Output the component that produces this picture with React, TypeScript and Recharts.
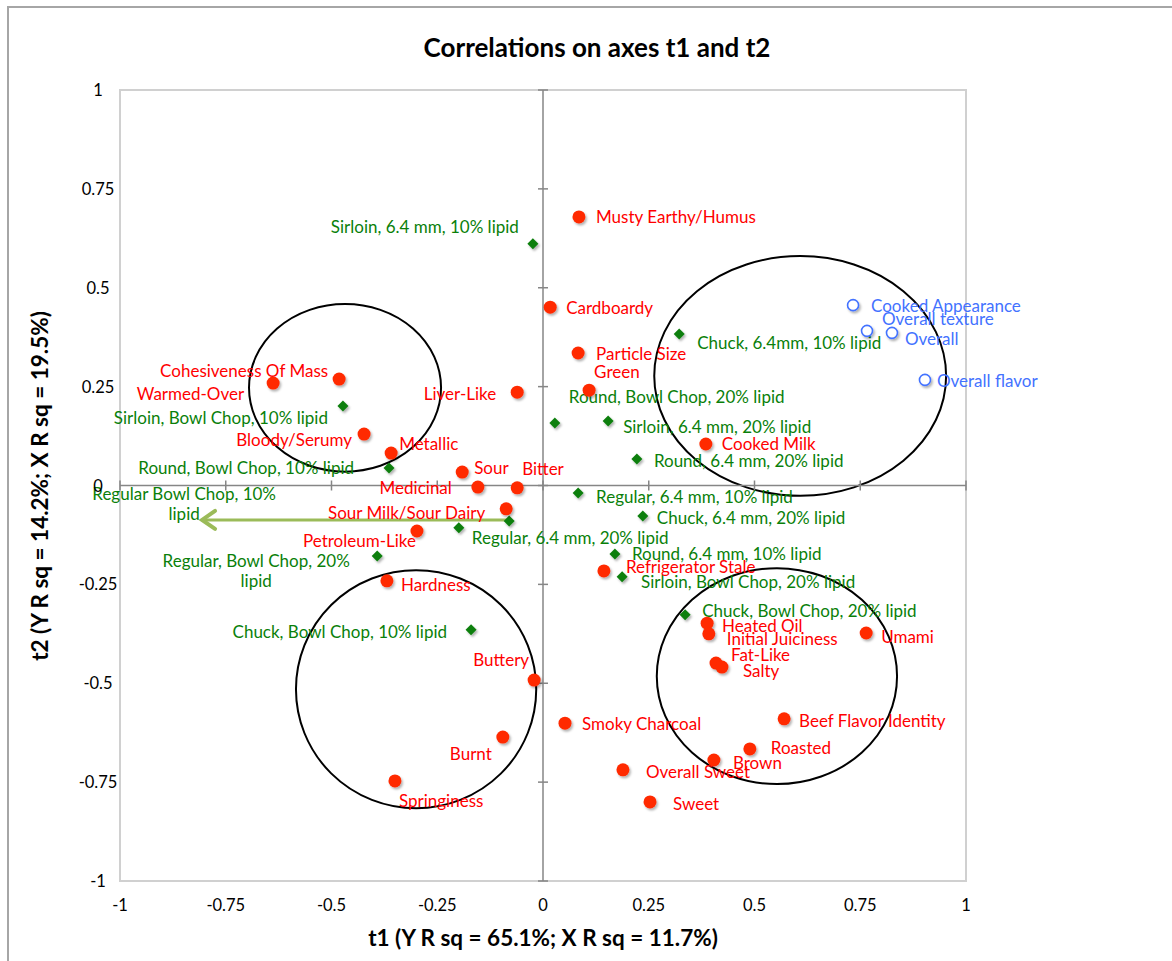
import {
  ReferenceArea,
  ReferenceDot,
  ReferenceLine,
  Scatter,
  ScatterChart,
  XAxis,
  YAxis,
} from 'recharts';

// sensory attributes (red dots)
const attrNames = [
  'Musty Earthy/Humus', 'Cardboardy', 'Particle Size', 'Green', 'Liver-Like',
  'Cohesiveness Of Mass', 'Warmed-Over', 'Bloody/Serumy', 'Metallic', 'Sour',
  'Medicinal', 'Bitter', 'Sour Milk/Sour Dairy', 'Petroleum-Like', 'Hardness',
  'Buttery', 'Burnt', 'Springiness', 'Smoky Charcoal', 'Overall Sweet',
  'Sweet', 'Refrigerator Stale', 'Cooked Milk', 'Heated Oil', 'Initial Juiciness',
  'Fat-Like', 'Salty', 'Umami', 'Beef Flavor Identity', 'Roasted', 'Brown',
];
const attrT1 = [
  0.085, 0.017, 0.083, 0.109, -0.061,
  -0.482, -0.638, -0.423, -0.359, -0.191,
  -0.154, -0.061, -0.087, -0.298, -0.369,
  -0.021, -0.095, -0.35, 0.052, 0.189,
  0.253, 0.144, 0.385, 0.388, 0.392,
  0.409, 0.423, 0.764, 0.57, 0.489, 0.404,
];
const attrT2 = [
  0.679, 0.451, 0.335, 0.241, 0.236,
  0.269, 0.259, 0.13, 0.082, 0.034,
  -0.004, -0.006, -0.059, -0.115, -0.241,
  -0.492, -0.636, -0.747, -0.601, -0.719,
  -0.8, -0.216, 0.105, -0.348, -0.375,
  -0.449, -0.459, -0.373, -0.59, -0.666, -0.694,
];

// ground beef samples (green diamonds)
const sampleNames = [
  'Sirloin, 6.4 mm, 10% lipid', 'Chuck, 6.4mm, 10% lipid', 'Sirloin, Bowl Chop, 10% lipid',
  'Round, Bowl Chop, 20% lipid', 'Sirloin, 6.4 mm, 20% lipid', 'Round, 6.4 mm, 20% lipid',
  'Round, Bowl Chop, 10% lipid', 'Regular, 6.4 mm, 10% lipid', 'Chuck, 6.4 mm, 20% lipid',
  'Regular, 6.4 mm, 20% lipid', 'Regular Bowl Chop, 10% lipid', 'Regular, Bowl Chop, 20% lipid',
  'Round, 6.4 mm, 10% lipid', 'Sirloin, Bowl Chop, 20% lipid', 'Chuck, Bowl Chop, 20% lipid',
  'Chuck, Bowl Chop, 10% lipid',
];
const sampleT1 = [
  -0.024, 0.322, -0.473, 0.028, 0.154, 0.222, -0.364, 0.083,
  0.236, -0.199, -0.08, -0.392, 0.17, 0.187, 0.336, -0.17,
];
const sampleT2 = [
  0.611, 0.383, 0.201, 0.158, 0.163, 0.067, 0.044, -0.019,
  -0.077, -0.107, -0.09, -0.178, -0.173, -0.231, -0.327, -0.365,
];

// overall liking (blue rings)
const likingNames = ['Cooked Appearance', 'Overall texture', 'Overall', 'Overall flavor'];
const likingT1 = [0.733, 0.766, 0.825, 0.903];
const likingT2 = [0.456, 0.391, 0.386, 0.267];

const axisTicks = [-1, -0.75, -0.5, -0.25, 0, 0.25, 0.5, 0.75, 1];

// hand-drawn grouping ellipses, bounding boxes in t1/t2 units
const groupX1 = [-0.695, 0.263, -0.584, 0.269];
const groupX2 = [-0.241, 0.953, -0.016, 0.837];
const groupY1 = [0.035, -0.026, -0.816, -0.755];
const groupY2 = [0.459, 0.58, -0.214, -0.209];

// arrow from Regular Bowl Chop point to its label
const arrowFrom = { x: -0.08, y: -0.087 };
const arrowTo = { x: -0.806, y: -0.087 };

const build = (names: string[], t1: number[], t2: number[]) =>
  names.map((name, i) => ({ name, t1: t1[i], t2: t2[i] }));

const attrData = build(attrNames, attrT1, attrT2);
const sampleData = build(sampleNames, sampleT1, sampleT2);
const likingData = build(likingNames, likingT1, likingT2);

// label placement: dx, dy (px from marker), anchor, wrap onto two lines
type Pos = [number, number, 'start' | 'end' | 'middle', boolean?];
const labelPos: Record<string, Pos> = {
  'Musty Earthy/Humus': [17, 0, 'start'],
  Cardboardy: [16, 0, 'start'],
  'Particle Size': [18, 0, 'start'],
  Green: [5, -19, 'start'],
  'Liver-Like': [-21, 1, 'end'],
  'Cohesiveness Of Mass': [-11, -9, 'end'],
  'Warmed-Over': [-29, 10, 'end'],
  'Bloody/Serumy': [-12, 5, 'end'],
  Metallic: [8, -10, 'start'],
  Sour: [12, -5, 'start'],
  Medicinal: [-26, 0, 'end'],
  Bitter: [5, -19, 'start'],
  'Sour Milk/Sour Dairy': [-21, 4, 'end'],
  'Petroleum-Like': [-1, 10, 'end'],
  Hardness: [14, 4, 'start'],
  Buttery: [-5, -21, 'end'],
  Burnt: [-11, 16, 'end'],
  Springiness: [4, 20, 'start'],
  'Smoky Charcoal': [17, 0, 'start'],
  'Overall Sweet': [23, 2, 'start'],
  Sweet: [23, 2, 'start'],
  'Refrigerator Stale': [22, -4, 'start'],
  'Cooked Milk': [16, 0, 'start'],
  'Heated Oil': [15, 2, 'start'],
  'Initial Juiciness': [18, 5, 'start'],
  'Fat-Like': [15, -9, 'start'],
  Salty: [21, 3, 'start'],
  Umami: [15, 3, 'start'],
  'Beef Flavor Identity': [15, 2, 'start'],
  Roasted: [21, -1, 'start'],
  Brown: [19, 3, 'start'],
  'Sirloin, 6.4 mm, 10% lipid': [-14, -17, 'end'],
  'Chuck, 6.4mm, 10% lipid': [18, 8, 'start'],
  'Sirloin, Bowl Chop, 10% lipid': [-15, 11, 'end'],
  'Round, Bowl Chop, 20% lipid': [14, -27, 'start'],
  'Sirloin, 6.4 mm, 20% lipid': [15, 5, 'start'],
  'Round, 6.4 mm, 20% lipid': [17, 1, 'start'],
  'Round, Bowl Chop, 10% lipid': [-35, -1, 'end'],
  'Regular, 6.4 mm, 10% lipid': [18, 3, 'start'],
  'Chuck, 6.4 mm, 20% lipid': [14, 2, 'start'],
  'Regular, 6.4 mm, 20% lipid': [13, 10, 'start'],
  'Regular Bowl Chop, 10% lipid': [-325, -28, 'middle', true],
  'Regular, Bowl Chop, 20% lipid': [-121, 5, 'middle', true],
  'Round, 6.4 mm, 10% lipid': [17, 0, 'start'],
  'Sirloin, Bowl Chop, 20% lipid': [19, 5, 'start'],
  'Chuck, Bowl Chop, 20% lipid': [17, -4, 'start'],
  'Chuck, Bowl Chop, 10% lipid': [-24, 2, 'end'],
  'Cooked Appearance': [18, 0, 'start'],
  'Overall texture': [15, -12, 'start'],
  Overall: [13, 6, 'start'],
  'Overall flavor': [12, 1, 'start'],
};

const FONT = 'Lato, "Noto Sans", sans-serif';
const RED = '#ff0000';
const DOT_RED = '#ff2a00';
const GREEN = '#0a7f0a';
const BLUE = '#4372ff';

function PointLabel({ x, y, name, color }: { x: number; y: number; name: string; color: string }) {
  const [dx, dy, anchor, wrap] = labelPos[name] ?? [14, 0, 'start'];
  const lines = wrap ? [name.replace(/ lipid$/, ''), 'lipid'] : [name];
  return (
    <text fontFamily={FONT} fontSize={17} fill={color} textAnchor={anchor}>
      {lines.map((l, i) => (
        <tspan key={i} x={x + dx} y={y + dy + i * 20} dominantBaseline="central">
          {l}
        </tspan>
      ))}
    </text>
  );
}

const dotShape = (p: any) => (
  <g>
    <circle cx={p.cx} cy={p.cy} r={6.5} fill={DOT_RED} filter="url(#soft)" />
    <PointLabel x={p.cx} y={p.cy} name={p.payload.name} color={RED} />
  </g>
);

const diamondShape = (p: any) => {
  const s = 5.5;
  const pts = `${p.cx},${p.cy - s} ${p.cx + s},${p.cy} ${p.cx},${p.cy + s} ${p.cx - s},${p.cy}`;
  return (
    <g>
      <polygon points={pts} fill={GREEN} filter="url(#soft)" />
      <PointLabel x={p.cx} y={p.cy} name={p.payload.name} color={GREEN} />
    </g>
  );
};

const ringShape = (p: any) => (
  <g>
    <circle cx={p.cx} cy={p.cy} r={5.5} fill="#fff" stroke={BLUE} strokeWidth={1.6} filter="url(#soft)" />
    <PointLabel x={p.cx} y={p.cy} name={p.payload.name} color={BLUE} />
  </g>
);

const ellipseShape = (p: any) => (
  <ellipse
    cx={p.x + p.width / 2}
    cy={p.y + p.height / 2}
    rx={Math.abs(p.width) / 2}
    ry={Math.abs(p.height) / 2}
    fill="none"
    stroke="#000"
    strokeWidth={2}
  />
);

const arrowShape = (p: any) => {
  const { x1, y1, x2, y2 } = p;
  return (
    <g stroke="#9bbb59" strokeWidth={3} fill="none" strokeLinecap="round">
      <line x1={x1} y1={y1} x2={x2} y2={y2} />
      <polyline points={`${x2 + 13},${y2 - 9} ${x2},${y2} ${x2 + 13},${y2 + 9}`} strokeWidth={4} />
    </g>
  );
};

const hTick = (p: any) => (
  <line x1={p.cx - 5} x2={p.cx + 5} y1={p.cy} y2={p.cy} stroke="#868686" strokeWidth={1.5} />
);
const vTick = (p: any) => (
  <line x1={p.cx} x2={p.cx} y1={p.cy - 5} y2={p.cy + 5} stroke="#868686" strokeWidth={1.5} />
);

const XTick = ({ x, y, payload }: any) => (
  <text x={x} y={y + 24} textAnchor="middle" dominantBaseline="central" fontFamily={FONT} fontSize={16.5} fill="#000">
    {payload.value}
  </text>
);
const YTick = ({ x, y, payload }: any) => (
  <text x={x - 22} y={y} textAnchor="middle" dominantBaseline="central" fontFamily={FONT} fontSize={16.5} fill="#000">
    {payload.value}
  </text>
);

export default function App() {
  return (
    <div style={{ position: 'relative', width: 1172, height: 961, overflow: 'hidden', background: '#fff' }}>
      <style>{'body{margin:0;overflow:hidden}'}</style>
      <div
        style={{
          position: 'absolute', left: 7, top: 6, width: 1300, height: 1100,
          borderLeft: '2px solid #a6a6a6', borderTop: '2px solid #a6a6a6',
        }}
      />
      <div
        style={{
          position: 'absolute', left: 0, top: 30, width: 1194, textAlign: 'center',
          fontFamily: FONT, fontWeight: 700, fontSize: 26, lineHeight: '34px',
        }}
      >
        Correlations on axes t1 and t2
      </div>
      <div
        style={{
          position: 'absolute', left: 120, top: 924, width: 846, textAlign: 'center',
          fontFamily: FONT, fontWeight: 700, fontSize: 22.5, lineHeight: '28px',
        }}
      >
        t1 (Y R sq = 65.1%; X R sq = 11.7%)
      </div>
      <div
        style={{
          position: 'absolute', left: 40, top: 486, width: 500, marginLeft: -250, marginTop: -14,
          textAlign: 'center', transform: 'rotate(-90deg)',
          fontFamily: FONT, fontWeight: 700, fontSize: 22.5, lineHeight: '28px',
        }}
      >
        t2 (Y R sq = 14.2%; X R sq = 19.5%)
      </div>
      <div style={{ position: 'absolute', left: 0, top: 0 }}>
        <ScatterChart width={1172} height={961} margin={{ top: 90, right: 206, bottom: 50, left: 60 }}>
          <defs>
            <filter id="soft" x="-50%" y="-50%" width="200%" height="200%">
              <feDropShadow dx="1.5" dy="2" stdDeviation="1.2" floodColor="#000" floodOpacity="0.3" />
            </filter>
          </defs>
          <XAxis
            type="number"
            dataKey="t1"
            domain={[-1, 1]}
            ticks={axisTicks}
            height={30}
            axisLine={false}
            tickLine={false}
            tickSize={0}
            tickMargin={0}
            tick={<XTick />}
            interval={0}
          />
          <YAxis
            type="number"
            dataKey="t2"
            domain={[-1, 1]}
            ticks={axisTicks}
            width={60}
            axisLine={false}
            tickLine={false}
            tickSize={0}
            tickMargin={0}
            tick={<YTick />}
            interval={0}
          />
          <ReferenceArea x1={-1} x2={1} y1={-1} y2={1} fill="none" stroke="#d0d0d0" strokeWidth={2} />
          <ReferenceLine x={0} stroke="#868686" strokeWidth={1.5} />
          <ReferenceLine y={0} stroke="#868686" strokeWidth={1.5} />
          {axisTicks.map((t) => (
            <ReferenceDot key={`h${t}`} x={0} y={t} shape={hTick} />
          ))}
          {axisTicks.map((t) => (
            <ReferenceDot key={`v${t}`} x={t} y={0} shape={vTick} />
          ))}
          {groupX1.map((x1, i) => (
            <ReferenceArea
              key={`g${i}`}
              x1={x1}
              x2={groupX2[i]}
              y1={groupY1[i]}
              y2={groupY2[i]}
              shape={ellipseShape}
            />
          ))}
          <ReferenceLine segment={[arrowFrom, arrowTo]} shape={arrowShape} />
          <Scatter data={sampleData} shape={diamondShape} isAnimationActive={false} />
          <Scatter data={attrData} shape={dotShape} isAnimationActive={false} />
          <Scatter data={likingData} shape={ringShape} isAnimationActive={false} />
        </ScatterChart>
      </div>
    </div>
  );
}
